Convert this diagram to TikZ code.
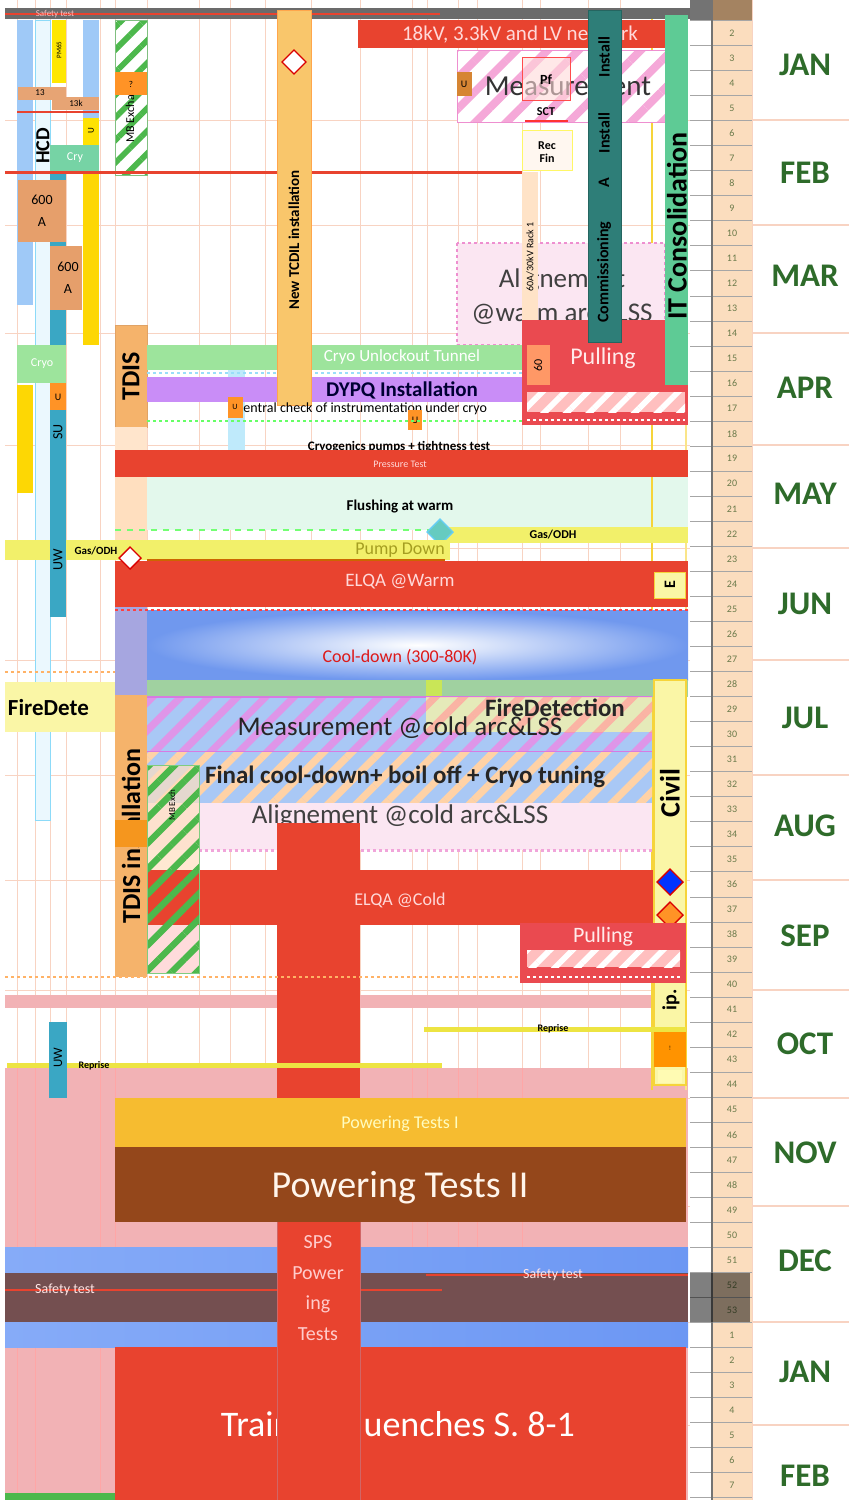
\documentclass[tikz,border=0pt]{standalone}
\usepackage{fontspec}
\setmainfont{Carlito}
\usetikzlibrary{patterns.meta,shapes.geometric}
\definecolor{cRed}{HTML}{E8432F}
\definecolor{cPull}{HTML}{EA4A50}
\definecolor{cPink}{HTML}{F2B2B5}
\definecolor{cGrid}{HTML}{F8D3C2}
\definecolor{cTan}{HTML}{FBDDBE}
\definecolor{cMonth}{HTML}{2E6B2A}
\definecolor{cWeek}{HTML}{6A7A4A}
\definecolor{cTeal}{HTML}{2E7E78}
\definecolor{cIT}{HTML}{5ECB95}
\definecolor{cTCD}{HTML}{F9C66B}
\definecolor{cTDIS}{HTML}{F5B36B}
\definecolor{cPurp}{HTML}{C98DF7}
\definecolor{cLGreen}{HTML}{9DE49C}
\definecolor{cMint}{HTML}{E3F8EC}
\definecolor{cYel}{HTML}{F2F06A}
\definecolor{cPaleY}{HTML}{FAF6A6}
\definecolor{cLBlue}{HTML}{9FC9F7}
\definecolor{cSU}{HTML}{3AA7C4}
\definecolor{cOrgBox}{HTML}{E3945B}
\definecolor{cPT}{HTML}{F6BC30}
\definecolor{cBrown}{HTML}{94471B}
\definecolor{cBand}{HTML}{6C97F3}
\definecolor{cBandL}{HTML}{86ABF8}
\definecolor{cCool}{HTML}{7098EE}
\definecolor{cDark}{HTML}{744F50}
\definecolor{cHBlue}{HTML}{A9C8F5}
\definecolor{cMag}{HTML}{D77AE2}
\definecolor{cPinkHatch}{HTML}{F5A8D8}
\definecolor{cAlign}{HTML}{FBE6F2}
\definecolor{cAlignB}{HTML}{EE8FD0}
\definecolor{cOrange}{HTML}{F5961E}
\definecolor{cYLine}{HTML}{F6D43A}
\begin{document}
\begin{tikzpicture}[x=1pt,y=-1pt,
  every node/.style={inner sep=0pt,outer sep=0pt},
  fs/.style={font=\fontsize{#1}{#1}\selectfont},
  fsb/.style={font=\fontsize{#1}{#1}\selectfont\bfseries},
  grid/.style={draw=cGrid,line width=0.9pt},
  weekline/.style={draw=gray!70,line width=0.9pt},
  hatch/.style={pattern={Lines[angle=45,distance=#1,line width=0.36*#1]}},
  dmd/.style={diamond,draw=red!85!black,line width=1.4pt,minimum size=24pt}
]
\useasboundingbox (0,0) rectangle (849,1500);
\fill[white] (0,0) rectangle (849,1500);

% ---------- grid ----------
\foreach \gx in {17,35,50,66,100,115,147,199,230,265,311,360,412,427,458,477,522,540,588,620}
  \draw[grid] (\gx,0) -- (\gx,1500);
\foreach \gy in {120,225,333,445,548,660,775,880,990,1098,1206,1322,1425}
  \draw[grid] (5,\gy) -- (690,\gy);

% ---------- pink background bottom ----------
\fill[cPink] (5,1068) rectangle (688,1500);
\foreach \gx in {17,35,100,115,412,427,458,477,522}
  \draw[draw=red!35,line width=0.8pt] (\gx,1068) -- (\gx,1500);
\fill[cPink] (5,995) rectangle (652,1008);

\draw[cYLine,line width=2pt] (652,10) -- (652,1090);
\draw[cYLine!60,line width=2pt] (686,385) -- (686,1090);

% ---------- top strip ----------
\fill[black!58] (5,8) rectangle (690,19);
\draw[cRed,line width=2.5pt] (5,14) -- (440,14);
\node[fs=9,text=white!75!red] (topsafety) at (55,14) {Safety test};

% ---------- left column ----------
\fill[cLBlue] (17,20) rectangle (33,305);
\draw[draw=cyan!45,fill=cyan!8,line width=1pt] (35,20) rectangle (50,820);
\fill[yellow!90!orange] (52,20) rectangle (66,83);
\node[rotate=90,fs=7] (pm65) at (59,50) {PM65};
\fill[cLBlue] (83,20) rectangle (99,145);
\fill[yellow!85!orange] (83,118) rectangle (99,145);
\node[rotate=90,fs=9] (u1) at (91,131) {U};
\fill[cOrgBox!85] (18,87) rectangle (66,100);
\node[fs=9] (b13a) at (40,93) {13};
\fill[cOrgBox!85] (52,97) rectangle (99,110);
\node[fs=9] (b13b) at (76,103) {13k};
\draw[cRed,line width=2.5pt] (17,112) -- (99,112);
\node[rotate=90,fsb=20] (hcd) at (43,146) {HCD};
\fill[cIT!85] (50,145) rectangle (99,172);
\node[fs=12,text=white] (cryA) at (75,158) {Cry};
\fill[cSU] (50,172) rectangle (66,617);
\fill[cOrgBox!90] (18,180) rectangle (66,242);
\node[align=center,font=\fontsize{14}{22}\selectfont] (a600a) at (42,211) {600\\A};
\fill[cOrgBox!90] (50,246) rectangle (82,310);
\node[align=center,font=\fontsize{14}{22}\selectfont] (a600b) at (68,278) {600\\A};
\fill[yellow!75!orange] (83,172) rectangle (99,345);
% MB exchange hatched
\fill[white] (115,20) rectangle (147,175);
\fill[hatch=16pt,pattern color=green!60!black!70] (115,20) rectangle (147,175);
\draw[green!50!black!50,line width=0.8pt] (115,20) rectangle (147,175);
\node[rotate=90,fs=12] (mbex) at (131,110) {MB Exchange};
\fill[orange!85] (115,72) rectangle (147,95);
\node[fs=9] (qmark) at (131,84) {?};
% Cryo left, U, yellow
\fill[cLGreen] (17,345) rectangle (66,383);
\node[fs=12,text=white] (cryoL) at (42,364) {Cryo};
\fill[yellow!75!orange] (17,385) rectangle (33,493);
\fill[cyan!25] (228,345) rectangle (245,450);

% ---------- TDIS top ----------
\draw[fill=cTDIS,draw=orange!80!black!60] (115,325) rectangle (147,427);
\node[rotate=90,fsb=26] (tdis) at (131,376) {TDIS};
\fill[orange!20] (115,427) rectangle (147,560);

% ---------- top right ----------
\fill[cRed] (358,20) rectangle (688,48);
\node[fs=21,text=white!85!red] (net) at (520,35) {18kV, 3.3kV and LV network};
\fill[white] (457,50) rectangle (665,122);
\fill[hatch=22pt,pattern color=cPinkHatch] (457,50) rectangle (665,122);
\draw[cAlignB,line width=1pt] (457,50) rectangle (665,122);
\node[fs=29,text=black!80] (meas1) at (568,86) {Measurement};
\fill[orange!80!black!80] (457,72) rectangle (472,96);
\node[fs=10] (uM) at (464,84) {U};
\draw[fill=red!15,fill opacity=0.6,draw=red!70,line width=1pt] (522,57) rectangle (570,100);
\node[fsb=14] (pf) at (546,80) {Pf};
\node[fsb=12] (sct) at (546,112) {SCT};
\draw[red!80,line width=2pt] (525,121) -- (568,121);
\draw[fill=orange!6,draw=yellow!60] (522,130) rectangle (572,170);
\node[align=center,font=\fontsize{12}{13}\selectfont\bfseries] (recfin) at (547,152) {Rec\\Fin};
\draw[cRed,line width=3pt] (5,172) -- (522,172);
% alignment warm
\draw[fill=cAlign,draw=cAlignB,dashed,line width=2pt] (457,243) rectangle (665,345);
\node[align=center,font=\fontsize{27}{34}\selectfont,text=black!75] (alw) at (562,297) {Alignement\\@warm arc\&LSS};
\fill[orange!22] (522,172) rectangle (538,350);
\node[rotate=90,fs=10] (rack) at (530,257) {60A/30kV Rack 1};
% pulling upper
\fill[cPull] (522,320) rectangle (688,425);
\fill[red!35!orange!60] (527,345) rectangle (550,385);
\node[rotate=90,fs=12] (p60) at (538,365) {60};
\node[fs=24,text=white!92!red] (pull1) at (603,358) {Pulling};
% commissioning
\draw[fill=cTeal,draw=cTeal!80!black] (588,10) rectangle (621,342);
\node[rotate=90,fsb=16] (comm) at (604,272) {Commissioning};
\node[rotate=90,fsb=16] (commA) at (604,183) {A};
\node[rotate=90,fsb=16] (inst1) at (604,133) {Install};
\node[rotate=90,fsb=16] (inst2) at (604,57) {Install};
% IT consolidation
\fill[cIT] (665,15) rectangle (688,385);
\node[rotate=90,fsb=28] (itc) at (677,226) {IT Consolidation};

% ---------- middle bars ----------
\fill[cLGreen] (147,345) rectangle (522,370);
\node[fs=17,text=white] (cryoT) at (402,357) {Cryo Unlockout Tunnel};
\draw[cyan!40,dashed,line width=1.5pt] (147,373) -- (522,373);
\fill[cPurp] (147,377) rectangle (522,402);
\node[fsb=21,text=black!80!blue] (dypq) at (402,390) {DYPQ Installation};
% TCDIL
\draw[fill=cTCD,draw=orange!70,line width=1pt] (277,10) rectangle (311,405);
\node[rotate=90,fsb=15] (tcdil) at (294,240) {New TCDIL installation};
\node[dmd,fill=white] (dia1) at (294,62) {};
\node[anchor=west,fs=14] (central) at (236,409) {Central check of instrumentation under cryo};
\fill[orange!85] (228,397) rectangle (243,418);
\node[fs=8] (uc1) at (235,407) {U};
\fill[orange!85] (408,410) rectangle (422,430);
\node[fs=10] (uc2) at (415,420) {U};
\draw[green!60,dashed,line width=1.5pt] (147,421) -- (522,421);
\fill[cPull] (522,400) rectangle (688,425);
\fill[red!25] (527,392) rectangle (685,412);
\fill[hatch=16pt,pattern color=white] (527,392) rectangle (685,412);
\draw[white,dashed,line width=2pt] (527,420) -- (685,420);
\node[fsb=13] (cryog) at (399,447) {Cryogenics pumps + tightness test};
\fill[cRed] (115,450) rectangle (688,477);
\node[fs=10,text=white!85!red] (press) at (400,464) {Pressure Test};
\fill[cMint] (147,477) rectangle (688,530);
\fill[orange!25] (115,477) rectangle (147,560);
\draw[cYLine,line width=2pt] (652,477) -- (652,530);
\node[fsb=15] (flush) at (400,506) {Flushing at warm};
\draw[green!55,dash pattern=on 6pt off 6pt,line width=2.5pt] (115,530) -- (440,530);
\fill[cYel] (440,527) rectangle (688,543);
\node[fsb=12] (gas1) at (553,535) {Gas/ODH};
\node[dmd,draw=cyan!60,fill=cyan!55!green!60,minimum size=26pt] (dia2) at (440,532) {};
\fill[cYel] (5,540) rectangle (450,560);
\node[fs=18,text=olive!80] (pump) at (400,550) {Pump Down};
\draw[orange!80!black,line width=2pt] (147,560) -- (445,560);
% SU bar in front of pump down
\fill[cSU] (50,383) rectangle (66,617);
\fill[orange!85] (50,383) rectangle (66,410);
\node[fs=10] (uL) at (58,397) {U};
\node[rotate=90,fs=14] (suT) at (58,432) {SU};
\node[rotate=90,fs=14] (uwT) at (58,560) {UW};
\node[fsb=11] (gas2) at (96,551) {Gas/ODH};
\fill[cRed] (115,561) rectangle (688,607);
\node[fs=19,text=white!85!red] (elqaw) at (400,582) {ELQA @Warm};
\node[dmd,fill=white,minimum size=22pt] (dia3) at (130,558) {};
\draw[fill=cPaleY,draw=cYLine] (654,572) rectangle (685,598);
\node[rotate=90,fsb=16] (eBox) at (670,585) {E};

% ---------- cool-down ----------
\fill[black!35!blue!35] (115,607) rectangle (147,695);
\shade[inner color=white,outer color=cCool] (147,610) rectangle (688,680);
\draw[red!75,dashed,line width=2pt] (115,610) -- (688,610);
\node[fs=18,text=red!85!black!90] (cool) at (400,657) {Cool-down (300-80K)};
\draw[orange!60,dashed,line width=2pt] (5,672) -- (115,672);
\fill[green!35!gray!55] (147,680) rectangle (688,697);
\fill[yellow!70!green!70] (426,680) rectangle (442,697);
\fill[cPaleY] (5,682) rectangle (115,732);
\node[anchor=west,fsb=23] (fire1) at (8,708) {FireDete};

% ---------- SPS vertical (behind) ----------
\fill[cRed] (277,823) rectangle (360,1500);

% ---------- cold phase ----------
\fill[cHBlue] (147,697) rectangle (652,752);
\fill[hatch=20pt,pattern color=cMag!80] (147,697) rectangle (652,752);
\draw[cMag,line width=1.2pt] (147,697) -- (652,697) (147,752) -- (652,752);
\fill[cPaleY,opacity=0.75] (426,697) rectangle (652,732);
\fill[hatch=20pt,pattern color=red!40,opacity=0.6] (426,697) rectangle (652,732);
\node[fsb=25,text=black!85] (fire2) at (555,708) {FireDetection};
\node[fs=27,text=black!85] (meas2) at (400,728) {Measurement @cold arc\&LSS};
\fill[cHBlue] (147,752) rectangle (652,803);
\fill[hatch=20pt,pattern color=orange!35] (147,752) rectangle (652,803);
\node[fsb=25,text=black!85] (final) at (405,777) {Final cool-down+ boil off + Cryo tuning};
\fill[cAlign] (147,803) rectangle (652,850);
\node[fs=27,text=black!75] (alc) at (400,816) {Alignement @cold arc\&LSS};
\draw[cAlignB!80,dashed,line width=3pt] (199,850) -- (652,850);
\fill[cRed] (277,823) rectangle (360,870);
\fill[cRed] (147,870) rectangle (655,925);
\node[fs=18,text=white!85!red] (elqac) at (400,900) {ELQA @Cold};
\fill[orange!25,opacity=0.7] (147,765) rectangle (199,870);
\fill[red!20,opacity=0.7] (147,925) rectangle (199,973);
\fill[hatch=18pt,pattern color=green!60!black!70] (147,765) rectangle (199,973);
\draw[green!60!black!50,line width=0.8pt] (147,765) rectangle (199,973);
\node[rotate=90,fs=9] (mbex2) at (172,805) {MB Exch};
% TDIS installation
\fill[cTDIS] (115,695) rectangle (147,977);
\node[rotate=90,fsb=26] (tdisinst) at (131,836) {TDIS installation};
\fill[cOrange] (115,820) rectangle (147,847);
% civil
\draw[fill=cPaleY,draw=cYLine,line width=1.5pt] (654,680) rectangle (686,1085);
\node[rotate=90,fsb=28] (civil) at (670,793) {Civil};
\node[dmd,fill=blue!80!cyan,minimum size=26pt] (dia4) at (670,882) {};
\node[dmd,fill=orange!85,minimum size=26pt] (dia5) at (670,915) {};
\node[rotate=90,fsb=20] (ip) at (671,1000) {ip.};
\fill[orange!85!yellow] (654,1030) rectangle (686,1067);
\node[rotate=90,fs=7] (civo) at (670,1048) {...};
\fill[yellow!30] (658,1070) rectangle (682,1083);
% pulling lower
\fill[cPull] (520,923) rectangle (686,983);
\node[fs=22,text=white!92!red] (pull2) at (603,937) {Pulling};
\fill[red!25] (527,950) rectangle (680,967);
\fill[hatch=16pt,pattern color=white] (527,950) rectangle (680,967);
\draw[white,dashed,line width=2pt] (527,977) -- (680,977);
\draw[orange!60,dashed,line width=2pt] (5,977) -- (520,977);

% ---------- reprise lines ----------
\draw[yellow!90!black!80,line width=5pt] (424,1029) -- (686,1029);
\node[fsb=10] (rep1) at (553,1029) {Reprise};
\draw[yellow!90!black!80,line width=5pt] (7,1065) -- (442,1065);
\node[fsb=10] (rep2) at (94,1066) {Reprise};
\fill[cSU] (49,1022) rectangle (67,1098);
\node[rotate=90,fs=13] (uw2) at (58,1058) {UW};

% ---------- powering ----------
\fill[cPT] (115,1098) rectangle (686,1147);
\node[fs=18,text=yellow!25] (pt1) at (400,1124) {Powering Tests I};
\fill[cBrown] (115,1147) rectangle (686,1222);
\node[fs=38,text=white!92!orange] (pt2) at (400,1188) {Powering Tests II};
\shade[left color=cBandL,right color=cBand] (5,1247) rectangle (688,1273);
\fill[cDark] (5,1273) rectangle (688,1322);
\draw[cRed,line width=2.5pt] (426,1275) -- (688,1275);
\draw[cRed,line width=2.5pt] (5,1290) -- (442,1290);
\node[fs=14,text=white!90!red] (saf1) at (553,1275) {Safety test};
\node[fs=14,text=white!90!red] (saf2) at (65,1290) {Safety test};
\shade[left color=cBandL,right color=cBand] (5,1322) rectangle (688,1347);
\fill[cRed] (115,1347) rectangle (686,1500);
\node[fs=36,text=white] (train) at (398,1427) {Training quenches S. 8-1};
\fill[cRed] (277,1222) rectangle (360,1500);
\draw[red!70!black!60,line width=0.6pt] (277,1222) -- (277,1500) (360,1222) -- (360,1500);
\node[align=center,font=\fontsize{20}{30.5}\selectfont,text=white!80!red] (sps) at (318,1288) {SPS\\Power\\ing\\Tests};
\fill[green!60!black!70] (5,1493) rectangle (115,1500);

% ---------- week column ----------
\fill[cTan] (712,0) rectangle (752,1500);
\fill[black!55] (690,0) rectangle (712,20);
\fill[brown!70!black!75] (712,0) rectangle (752,20);
\foreach \n in {2,...,61} {
  \pgfmathsetmacro\yy{-4.5+25.04*(\n-1)}
  \draw[weekline] (690,\yy) -- (752,\yy);
}
\draw[black!55,line width=1.5pt] (712,0) -- (712,1500);
\draw[cGrid,line width=1pt] (752,0) -- (752,1500);
\foreach \n in {2,...,60} {
  \pgfmathsetmacro\yy{8+25.04*(\n-1)}
  \pgfmathtruncatemacro\lab{\n>53 ? \n-53 : \n}
  \node[fs=10,text=cWeek] (w\n) at (732,\yy) {\lab};
}
\fill[black,opacity=0.5] (690,1273) rectangle (750,1322);

% ---------- months ----------
\foreach \gy in {120,225,333,445,548,660,775,880,990,1098,1206,1322,1425}
  \draw[cGrid,line width=1.5pt] (752,\gy) -- (849,\gy);
\foreach \m/\gy/\nm in {JAN/65/m1,FEB/173/m2,MAR/276/m3,APR/388/m4,MAY/494/m5,JUN/604/m6,JUL/718/m7,AUG/826/m8,SEP/936/m9,OCT/1044/m10,NOV/1153/m11,DEC/1261/m12,JAN/1372/m13,FEB/1476/m14}
  \node[fsb=33,text=cMonth] (\nm) at (805,\gy) {\m};
\end{tikzpicture}
\end{document}
